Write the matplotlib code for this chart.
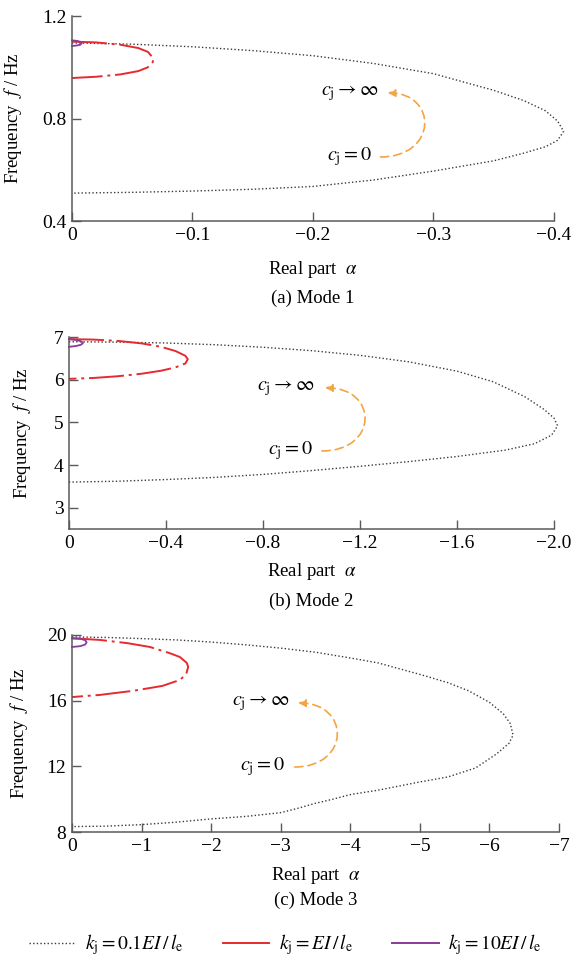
import matplotlib
matplotlib.use("Agg")
import matplotlib.pyplot as plt
from matplotlib.patches import FancyArrowPatch
from matplotlib.path import Path
from matplotlib.lines import Line2D

plt.rcParams['font.family'] = 'serif'
plt.rcParams['font.serif'] = ['Liberation Serif', 'DejaVu Serif']
plt.rcParams['mathtext.fontset'] = 'stix'

# ---- Mode 1 : real part alpha / frequency (Hz) ----
m1_k01_re = [0, -0.05, -0.1, -0.15, -0.2, -0.25, -0.3, -0.35, -0.375, -0.393, -0.403, -0.408,
             -0.403, -0.393, -0.375, -0.35, -0.3, -0.25, -0.2, -0.15, -0.1, -0.05, 0]
m1_k01_f = [1.095, 1.09, 1.08, 1.065, 1.045, 1.015, 0.975, 0.91, 0.87, 0.83, 0.79, 0.75,
            0.715, 0.69, 0.665, 0.635, 0.595, 0.56, 0.535, 0.524, 0.517, 0.512, 0.509]
m1_k1_re = [0, -0.02, -0.04, -0.055, -0.063, -0.0675, -0.067, -0.063, -0.055, -0.04, -0.02, 0]
m1_k1_f = [1.10, 1.097, 1.088, 1.075, 1.06, 1.035, 1.02, 1.0, 0.985, 0.972, 0.963, 0.958]
m1_k10_re = [0, -0.004, -0.007, -0.008, -0.007, -0.004, 0]
m1_k10_f = [1.105, 1.103, 1.099, 1.094, 1.088, 1.085, 1.083]

# ---- Mode 2 ----
m2_k01_re = [0, -0.2, -0.4, -0.6, -0.8, -1.0, -1.2, -1.4, -1.6, -1.75, -1.88, -1.96, -2.0, -2.015,
             -1.99, -1.92, -1.8, -1.6, -1.4, -1.2, -1.0, -0.8, -0.6, -0.4, -0.2, 0]
m2_k01_f = [6.89, 6.88, 6.86, 6.82, 6.76, 6.68, 6.57, 6.42, 6.2, 5.95, 5.6, 5.3, 5.1, 4.92,
            4.7, 4.5, 4.35, 4.2, 4.08, 3.97, 3.87, 3.78, 3.71, 3.66, 3.62, 3.60]
m2_k1_re = [0, -0.1, -0.2, -0.3, -0.38, -0.44, -0.48, -0.49, -0.48, -0.44, -0.38, -0.3, -0.2, -0.1, 0]
m2_k1_f = [6.95, 6.94, 6.91, 6.85, 6.77, 6.67, 6.56, 6.48, 6.38, 6.29, 6.21, 6.14, 6.08, 6.04, 6.02]
m2_k10_re = [0, -0.03, -0.05, -0.058, -0.05, -0.03, 0]
m2_k10_f = [6.95, 6.93, 6.9, 6.86, 6.82, 6.79, 6.77]

# ---- Mode 3 ----
m3_k01_re = [0, -0.5, -1.0, -1.5, -2.0, -2.5, -3.0, -3.5, -4.0, -4.4, -5.0, -5.4, -5.7, -6.0,
             -6.2, -6.3, -6.34,
             -6.28, -6.1, -5.8, -5.4, -5.0, -4.4, -4.0, -3.75, -3.5, -3.25, -3.0, -2.5, -2.0,
             -1.5, -1.0, -0.5, 0]
m3_k01_f = [19.88, 19.85, 19.78, 19.7, 19.57, 19.4, 19.2, 18.95, 18.6, 18.3, 17.6, 17.1, 16.6,
            15.9, 15.2, 14.6, 13.9,
            13.4, 12.75, 11.9, 11.35, 11.05, 10.55, 10.28, 10.0, 9.75, 9.45, 9.18, 8.95, 8.8,
            8.6, 8.45, 8.36, 8.33]
m3_k1_re = [0, -0.4, -0.8, -1.12, -1.4, -1.55, -1.65, -1.67, -1.64, -1.55, -1.3, -0.88, -0.4, 0]
m3_k1_f = [19.8, 19.7, 19.5, 19.27, 18.9, 18.66, 18.3, 18.05, 17.6, 17.26, 16.9, 16.6, 16.35, 16.22]
m3_k10_re = [0, -0.12, -0.19, -0.21, -0.19, -0.12, 0]
m3_k10_f = [19.8, 19.77, 19.68, 19.55, 19.42, 19.32, 19.27]

# damping arrow (start c_j=0, bulge, end c_j->inf) per mode
arrow_re = [(-0.256, -0.2925, -0.262), (-1.043, -1.22, -1.056), (-3.20, -3.81, -3.25)]
arrow_f = [(0.65, 0.775, 0.90), (4.33, 5.07, 5.81), (11.96, 13.9, 15.86)]
label_re = [(-0.249, -0.254), (-1.006, -1.014), (-3.06, -3.13)]

x_ticks = [[0, -0.1, -0.2, -0.3, -0.4],
           [0, -0.4, -0.8, -1.2, -1.6, -2.0],
           [0, -1, -2, -3, -4, -5, -6, -7]]
x_ticklabels = [['0', '\u22120.1', '\u22120.2', '\u22120.3', '\u22120.4'],
                ['0', '\u22120.4', '\u22120.8', '\u22121.2', '\u22121.6', '\u22122.0'],
                ['0', '\u22121', '\u22122', '\u22123', '\u22124', '\u22125', '\u22126', '\u22127']]
y_ticks = [[0.4, 0.8, 1.2], [3, 4, 5, 6, 7], [8, 12, 16, 20]]
y_ticklabels = [['0.4', '0.8', '1.2'], ['3', '4', '5', '6', '7'], ['8', '12', '16', '20']]
captions = ['(a) Mode 1', '(b) Mode 2', '(c) Mode 3']
legend_labels = [r'$k_\mathrm{j}=0.1EI\,/\,l_\mathrm{e}$',
                 r'$k_\mathrm{j}=EI\,/\,l_\mathrm{e}$',
                 r'$k_\mathrm{j}=10EI\,/\,l_\mathrm{e}$']

data = [(m1_k01_re, m1_k01_f, m1_k1_re, m1_k1_f, m1_k10_re, m1_k10_f),
        (m2_k01_re, m2_k01_f, m2_k1_re, m2_k1_f, m2_k10_re, m2_k10_f),
        (m3_k01_re, m3_k01_f, m3_k1_re, m3_k1_f, m3_k10_re, m3_k10_f)]

# layout (figure fractions) and limits
axes_rect = [[0.1261, 0.7707, 0.8441, 0.2127],
             [0.1208, 0.4512, 0.8494, 0.1992],
             [0.1261, 0.1369, 0.8529, 0.2044]]
xlims = [(0, -0.4), (0, -2.0), (0, -7)]
ylims = [(0.4, 1.2), (2.5, 7.0), (8, 20)]
ylabel_x = [-0.10, -0.074, -0.086]
xlabel_y = [270, 572, 875]
caption_y = [298, 601, 900]

W, H = 571, 964
fig = plt.figure(figsize=(W / 100, H / 100), dpi=100)

dot_color = '#3a3a3a'
red = '#e62a2f'
purple = '#8b3a9c'
orange = '#f4a443'
spine_color = '#5a5a5a'
dot_style = (0, (1, 1.6))

for i in range(3):
    ax = fig.add_axes(axes_rect[i])
    k01_re, k01_f, k1_re, k1_f, k10_re, k10_f = data[i]

    ax.plot(k01_re, k01_f, color=dot_color, lw=1.0, linestyle=dot_style, clip_on=False)
    ax.plot(k1_re, k1_f, color=red, lw=1.4, linestyle=(0, (18, 2.5, 1.5, 2.5)), clip_on=False)
    ax.plot(k10_re, k10_f, color=purple, lw=1.3, clip_on=False)

    # damping path arrow: cubic curve bulging to the right
    r0, rb, r1 = arrow_re[i]
    f0, fb, f1 = arrow_f[i]
    rmid = 0.5 * (r0 + r1)
    rc = rmid + (rb - rmid) / 0.75
    path = Path([(r0, f0), (rc, f0), (rc, f1), (r1, f1)],
                [Path.MOVETO, Path.CURVE4, Path.CURVE4, Path.CURVE4])
    arr = FancyArrowPatch(path=path, arrowstyle='-|>', mutation_scale=11,
                          color=orange, lw=1.2, linestyle=(0, (5, 3)))
    ax.add_patch(arr)
    ax.text(label_re[i][0], f0, r'$c_\mathrm{j}=0$', ha='right', va='center', fontsize=14.5)
    ax.text(label_re[i][1], f1, r'$c_\mathrm{j}\rightarrow\infty$', ha='right', va='center',
            fontsize=14.5)

    ax.set_xlim(*xlims[i])
    ax.set_ylim(*ylims[i])
    ax.set_xticks(x_ticks[i])
    ax.set_xticklabels(x_ticklabels[i])
    ax.set_yticks(y_ticks[i])
    ax.set_yticklabels(y_ticklabels[i])

    for s in ['top', 'right']:
        ax.spines[s].set_visible(False)
    for s in ['left', 'bottom']:
        ax.spines[s].set_color(spine_color)
        ax.spines[s].set_linewidth(1.1)
    ax.tick_params(direction='in', length=6.5, width=1.0, color=spine_color,
                   labelsize=14, pad=4)
    ax.spines['left'].set_zorder(5)

    ax.set_ylabel(r'Frequency  $f$ / Hz', fontsize=13.5)
    ax.yaxis.set_label_coords(ylabel_x[i], 0.5)
    xc = axes_rect[i][0] + 0.5 * axes_rect[i][2]
    fig.text(xc, 1 - xlabel_y[i] / H, r'Real part  $\alpha$', ha='center', va='center',
             fontsize=13.5)
    fig.text(xc, 1 - caption_y[i] / H, captions[i], ha='center', va='center', fontsize=13.5)

# legend with plain line samples
proxies = [Line2D([], [], color=dot_color, lw=1.0, linestyle=dot_style),
           Line2D([], [], color=red, lw=1.4),
           Line2D([], [], color=purple, lw=1.4)]
fig.legend(handles=proxies, labels=legend_labels, loc='center',
           bbox_to_anchor=(0.5, 1 - 945 / H), ncol=3, frameon=False, fontsize=14,
           handlelength=2.4, handletextpad=0.5, columnspacing=2.0)

fig.savefig('out.png', dpi=100)
